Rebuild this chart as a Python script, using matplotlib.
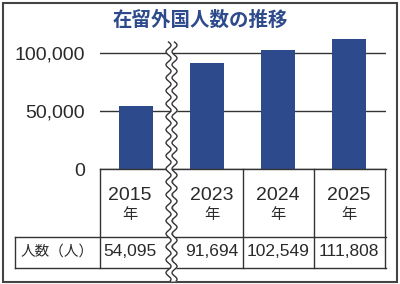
import numpy as np
import matplotlib.pyplot as plt
from matplotlib.patches import Rectangle

# data
years = ['2015', '2023', '2024', '2025']
counts = [54095, 91694, 102549, 111808]
yticks = [0, 50000, 100000]
title = '在留外国人数の推移'
row_label = '人数（人）'
year_suffix = '年'

BLUE = '#2d4a8c'
LINE = '#333333'
TXT = '#2a2a2a'
CJK = ['Noto Sans CJK JP', 'DejaVu Sans']
NUM = ['Liberation Sans', 'DejaVu Sans']

W, H = 400, 284
fig = plt.figure(figsize=(W / 100, H / 100), dpi=100)


def px_rect(left, top, right, bottom):
    return [left / W, 1 - bottom / H, (right - left) / W, (bottom - top) / H]


# bar chart
ax = fig.add_axes(px_rect(100, 30, 386, 169))
x = np.arange(len(years))
ax.bar(x, counts, width=0.48, color=BLUE, zorder=3)
xmin, xmax = -0.507, len(years) - 0.48
ax.set_xlim(xmin, xmax)
ax.set_ylim(0, 120000)
ax.set_yticks(yticks)
ax.set_yticklabels([f'{v:,}' for v in yticks], family=NUM, fontsize=14, color=TXT)
ax.tick_params(axis='y', length=0, pad=11)
ax.set_xticks([])
for s in ax.spines.values():
    s.set_visible(False)
ax.grid(axis='y', color=LINE, lw=1)
ax.set_axisbelow(True)

# table under the bars
ppu = 286 / (xmax - xmin)
tx0 = xmin - 85 / ppu
tax = fig.add_axes(px_rect(15, 169, 386, 268))
tax.set_xlim(tx0, xmax)
tax.set_ylim(99, 0)
tax.axis('off')
kw = dict(color=LINE, lw=1, clip_on=False)
tax.plot([xmin, xmax], [0, 0], **kw)
tax.plot([tx0, xmax], [68, 68], **kw)
tax.plot([tx0, xmax], [99, 99], **kw)
tax.plot([tx0, tx0], [68, 99], **kw)
for b in list(np.arange(len(years) + 1) - 0.5):
    xb = min(max(b, xmin), xmax)
    tax.plot([xb, xb], [0, 99], **kw)

brk = 0.5  # position of the axis break
for i, (yr, n) in enumerate(zip(years, counts)):
    off = 0
    if i == 0:
        off = -6.5 / ppu
    elif i == 1:
        off = 4.5 / ppu
    tax.text(i + off, 30.5, yr, ha='center', va='baseline', family=NUM, fontsize=14, color=TXT)
    tax.text(i + off, 46, year_suffix, ha='center', va='center', family=CJK, fontsize=11, color=TXT)
    tax.text(i + off, 83, f'{n:,}', ha='center', va='center', family=NUM, fontsize=12.5, color=TXT)
tax.text((tx0 + xmin) / 2, 83, row_label, ha='center', va='center', family=CJK, fontsize=10.5, color=TXT)

# overlay: title, frame, wavy break
ov = fig.add_axes([0, 0, 1, 1], zorder=10)
ov.set_xlim(0, W)
ov.set_ylim(H, 0)
ov.axis('off')
ov.patch.set_alpha(0)
ov.add_patch(Rectangle((2.5, 2.5), W - 5.5, H - 4.5, fill=False, ec='#444444', lw=1.5))
ov.text(W / 2, 20, title, ha='center', va='center', fontsize=14, weight='bold', color=BLUE, family=CJK)

bx = ax.transData.transform((brk, 0))[0]
yy = np.linspace(42, 281, 500)
xx = bx + 2.5 * np.sin(2 * np.pi * (yy - 42) / 13)
ov.fill_betweenx(yy, xx - 3, xx + 3, color='white', lw=0)
ov.plot(xx - 3, yy, color=LINE, lw=1)
ov.plot(xx + 3, yy, color=LINE, lw=1)

fig.savefig('out.png', dpi=100)
